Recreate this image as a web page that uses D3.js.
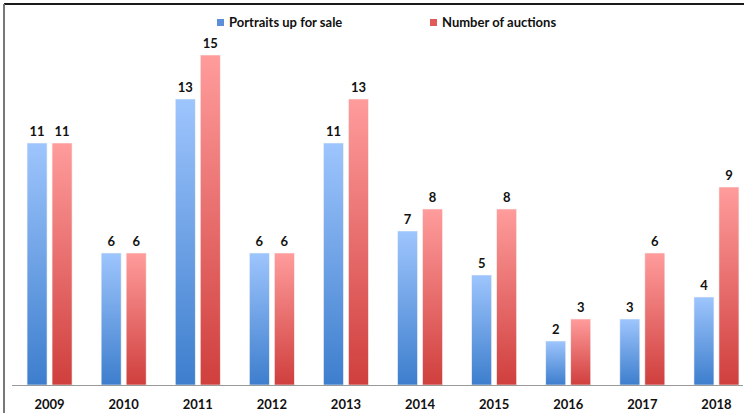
<!DOCTYPE html>
<html>
<head>
<meta charset="utf-8">
<script src="https://cdn.jsdelivr.net/npm/d3@7"></script>
<style>
  body { margin: 0; background: #fff; }
  text { font-family: Lato, "Open Sans", sans-serif; font-weight: bold; }
</style>
</head>
<body>
<script>
// chart data
var years = ["2009","2010","2011","2012","2013","2014","2015","2016","2017","2018"];
var portraits = [11, 6, 13, 6, 11, 7, 5, 2, 3, 4];
var auctions = [11, 6, 15, 6, 13, 8, 8, 3, 6, 9];
var seriesNames = ["Portraits up for sale", "Number of auctions"];

var svgWidth = 752, svgHeight = 413;
var baseY = 385;

var svg = d3.select("body").append("svg")
  .attr("width", svgWidth)
  .attr("height", svgHeight);

// gradients
var defs = svg.append("defs");
function grad(id, top, bottom) {
  var g = defs.append("linearGradient").attr("id", id)
    .attr("x1", 0).attr("y1", 0).attr("x2", 0).attr("y2", 1);
  g.append("stop").attr("offset", "0%").attr("stop-color", top);
  g.append("stop").attr("offset", "100%").attr("stop-color", bottom);
}
grad("gBlue", "#9ec5fd", "#3d7ecd");
grad("gRed", "#ff9c9c", "#cf3f3d");

// frame lines
svg.append("line").attr("x1", 4).attr("x2", 744).attr("y1", 4).attr("y2", 4)
  .attr("stroke", "#1a1a1a").attr("stroke-width", 2);
svg.append("line").attr("x1", 4).attr("x2", 4).attr("y1", 4).attr("y2", 413)
  .attr("stroke", "#777").attr("stroke-width", 2);

var x = d3.scaleBand().domain(years).range([12.5, 753.5]).padding(0);
var y = d3.scaleLinear().domain([0, 15]).range([baseY, baseY - 330]);

var barW = 20, gap = 5;
var series = [
  {vals: portraits, fill: "url(#gBlue)", off: -(barW + gap / 2)},
  {vals: auctions, fill: "url(#gRed)", off: gap / 2}
];

series.forEach(function(s) {
  var g = svg.append("g");
  g.selectAll("rect").data(s.vals).enter().append("rect")
    .attr("x", function(d, i) { return x(years[i]) + x.bandwidth() / 2 + s.off; })
    .attr("y", function(d) { return y(d); })
    .attr("width", barW)
    .attr("height", function(d) { return baseY - y(d); })
    .attr("fill", s.fill)
    .attr("stroke", "#f4f4f4").attr("stroke-width", 0.6);
  g.selectAll("text").data(s.vals).enter().append("text")
    .attr("x", function(d, i) { return x(years[i]) + x.bandwidth() / 2 + s.off + barW / 2; })
    .attr("y", function(d) { return y(d) - 7; })
    .attr("text-anchor", "middle")
    .attr("font-size", 13)
    .attr("fill", "#111")
    .text(function(d) { return d; });
});

// x axis
var xAxis = svg.append("g").attr("transform", "translate(0," + baseY + ")")
  .call(d3.axisBottom(x).tickSize(0).tickPadding(15));
xAxis.select(".domain").attr("stroke", "#999").attr("d", "M12,0.5H743");
xAxis.selectAll("text").attr("font-size", 13).attr("fill", "#111")
  .style("font-family", "Lato, sans-serif").style("font-weight", "bold");

// legend
var legend = svg.append("g");
var legX = [217, 430];
var legCol = ["#5b8fd9", "#e05a5a"];
seriesNames.forEach(function(n, i) {
  legend.append("rect").attr("x", legX[i]).attr("y", 19).attr("width", 7).attr("height", 7)
    .attr("fill", legCol[i]);
  legend.append("text").attr("x", legX[i] + 12).attr("y", 27)
    .attr("font-size", 13).attr("fill", "#111").text(n);
});
</script>
</body>
</html>
